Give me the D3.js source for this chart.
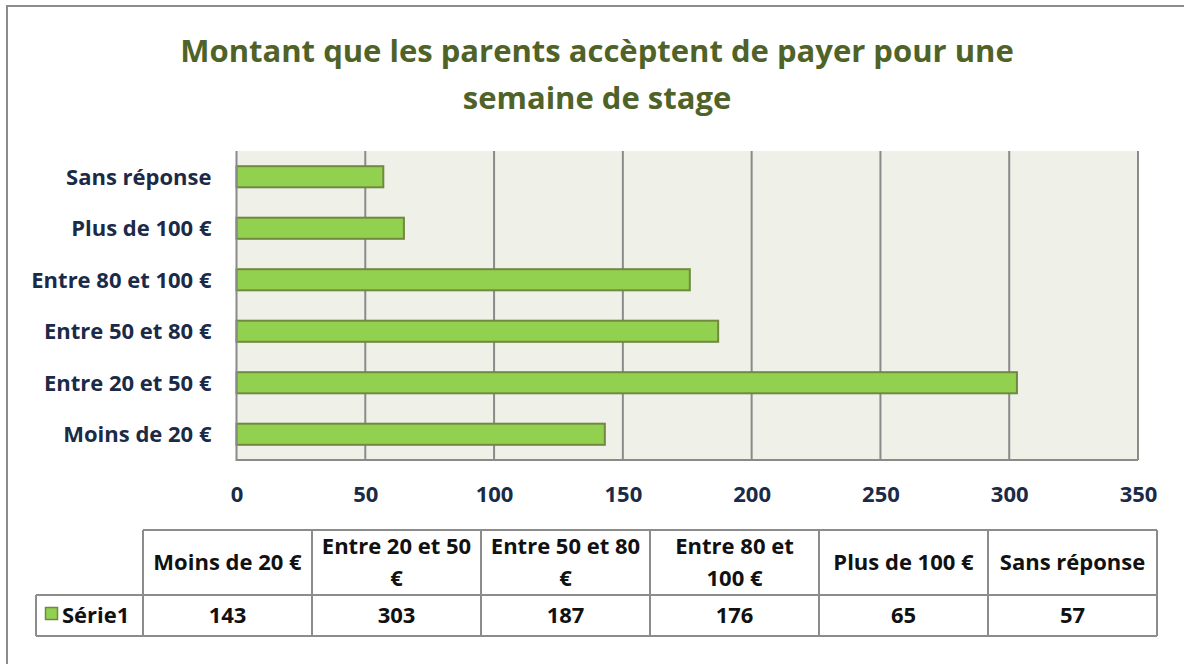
<!DOCTYPE html>
<html><head><meta charset="utf-8">
<script src="https://cdn.jsdelivr.net/npm/d3@7"></script>
<style>body{margin:0;background:#fff}svg{display:block}</style>
</head><body>
<svg id="c" width="1184" height="664"></svg>
<script>
const categories = ["Moins de 20 €","Entre 20 et 50 €","Entre 50 et 80 €","Entre 80 et 100 €","Plus de 100 €","Sans réponse"];
const values = [143, 303, 187, 176, 65, 57];
const seriesName = "Série1";
const xTicks = [0,50,100,150,200,250,300,350];
const titleLines = ["Montant que les parents accèptent de payer pour une","semaine de stage"];

const FONT = "'Open Sans', sans-serif";
const svg = d3.select("#c");

// outer frame
svg.append("rect").attr("x",7).attr("y",6).attr("width",1250).attr("height",700)
  .attr("fill","#fff").attr("stroke","#8c8c8c").attr("stroke-width",2);

// title
svg.append("g").selectAll("text").data(titleLines).join("text")
  .attr("x",597).attr("y",(d,i)=>62+i*47)
  .attr("text-anchor","middle").attr("font-family",FONT).attr("font-weight","bold")
  .attr("font-size",31).attr("fill","#4f6228").text(d=>d);

const m = {left:236.5, right:1138, top:151, bottom:460};
const x = d3.scaleLinear().domain([0,350]).range([m.left,m.right]);
const y = d3.scaleBand().domain(categories.slice().reverse()).range([m.top,m.bottom]).paddingInner(0.59).paddingOuter(0.295);

// plot background
svg.append("rect").attr("x",m.left).attr("y",m.top).attr("width",m.right-m.left).attr("height",m.bottom-m.top).attr("fill","#eff1e9");

// grid
svg.append("g").selectAll("line").data(xTicks.filter(t=>t>0)).join("line")
  .attr("x1",d=>x(d)).attr("x2",d=>x(d)).attr("y1",m.top).attr("y2",m.bottom)
  .attr("stroke","#8a8a8a").attr("stroke-width",2);

// bars
svg.append("g").selectAll("rect").data(categories).join("rect")
  .attr("x",x(0)).attr("y",d=>y(d)).attr("height",y.bandwidth())
  .attr("width",(d,i)=>x(values[i])-x(0))
  .attr("fill","#92d050").attr("stroke","#71893f").attr("stroke-width",2);

// axis lines
svg.append("line").attr("x1",m.left).attr("x2",m.right).attr("y1",m.bottom).attr("y2",m.bottom).attr("stroke","#8a8a8a").attr("stroke-width",2);
svg.append("line").attr("x1",m.left).attr("x2",m.left).attr("y1",m.top).attr("y2",m.bottom+1).attr("stroke","#8a8a8a").attr("stroke-width",2);

// y axis labels
const yAxis = d3.axisLeft(y).tickSize(0).tickPadding(25);
const gy = svg.append("g").attr("transform",`translate(${m.left},0)`).call(yAxis);
gy.select(".domain").remove();
gy.selectAll("text").attr("font-family",FONT).attr("font-weight","bold").attr("font-size",22).attr("fill","#1b2a47").attr("dy","0.36em");

// x axis labels
const xAxis = d3.axisBottom(x).tickValues(xTicks).tickSize(0).tickPadding(26).tickFormat(d3.format("d"));
const gx = svg.append("g").attr("transform",`translate(0,${m.bottom})`).call(xAxis);
gx.select(".domain").remove();
gx.selectAll("text").attr("font-family",FONT).attr("font-weight","bold").attr("font-size",22).attr("fill","#1b2a47");

// data table
const colX = d3.scaleBand().domain(categories).range([143,1157]);
const tTop = 530, tMid = 595, tBot = 636, legL = 36;
const tg = svg.append("g");
const lc = "#8c8c8c";
tg.append("line").attr("x1",143).attr("x2",1157).attr("y1",tTop).attr("y2",tTop).attr("stroke",lc).attr("stroke-width",2);
tg.append("line").attr("x1",legL).attr("x2",1157).attr("y1",tMid).attr("y2",tMid).attr("stroke",lc).attr("stroke-width",2);
tg.append("line").attr("x1",legL).attr("x2",1157).attr("y1",tBot).attr("y2",tBot).attr("stroke",lc).attr("stroke-width",2);
tg.append("line").attr("x1",legL).attr("x2",legL).attr("y1",tMid).attr("y2",tBot).attr("stroke",lc).attr("stroke-width",2);
tg.selectAll("line.v").data(categories.concat(["end"])).join("line").attr("class","v")
  .attr("x1",(d,i)=>i<categories.length?colX(d):1157).attr("x2",(d,i)=>i<categories.length?colX(d):1157)
  .attr("y1",tTop).attr("y2",tBot).attr("stroke",lc).attr("stroke-width",2);

// header text with wrapping
const maxW = 158;
categories.forEach(c=>{
  const words = c.split(" ");
  const t = tg.append("text").attr("font-family",FONT).attr("font-weight","bold").attr("font-size",22).attr("fill","#111").attr("text-anchor","middle");
  let lines=[], cur=[];
  words.forEach(w=>{
    cur.push(w);
    t.text(cur.join(" "));
    if (t.node().getComputedTextLength()>maxW && cur.length>1){ cur.pop(); lines.push(cur.join(" ")); cur=[w]; }
  });
  lines.push(cur.join(" "));
  t.text(null);
  const cx = colX(c)+colX.bandwidth()/2;
  lines.forEach((l,i)=>{
    t.append("tspan").attr("x",cx).attr("y",570+(i-(lines.length-1)/2)*32).text(l);
  });
});
tg.selectAll("text.val").data(categories).join("text").attr("class","val")
  .attr("x",d=>colX(d)+colX.bandwidth()/2).attr("y",623)
  .attr("text-anchor","middle").attr("font-family",FONT).attr("font-weight","bold").attr("font-size",22).attr("fill","#111")
  .text((d,i)=>values[i]);
tg.append("rect").attr("x",45.5).attr("y",607.5).attr("width",12).attr("height",12).attr("fill","#92d050").attr("stroke","#71893f").attr("stroke-width",1.5);
tg.append("text").attr("x",62).attr("y",623).attr("font-family",FONT).attr("font-weight","bold").attr("font-size",22).attr("fill","#111").text(seriesName);
</script>
</body></html>
